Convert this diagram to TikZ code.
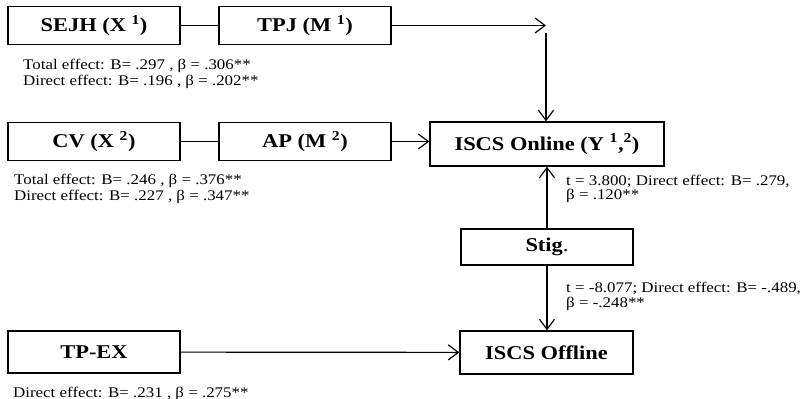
\documentclass[tikz,border=0pt]{standalone}
\usepackage{fontspec}
\setmainfont[FakeStretch=1.15]{Liberation Serif}
\usetikzlibrary{arrows.meta}

\begin{document}
\begin{tikzpicture}[x=1pt,y=-1pt,
  box/.style={draw, line width=1.4pt, inner sep=0pt,
    minimum width=172pt, minimum height=38pt,
    font=\fontsize{19.5}{22}\selectfont\bfseries},
  link/.style={line width=1.2pt},
  arr/.style={line width=1.2pt,
    -{Straight Barb[length=10pt,width=15pt,line width=1.2pt]}},
  note/.style={anchor=north west, inner sep=0pt, align=left,
    font=\fontsize{14.7}{16}\selectfont},
]
\useasboundingbox (0,0) rectangle (801,399);

% predictors and mediators
\node[box] (sejh) at (94,25.5) {SEJH (X \textsuperscript{1})};
\node[box] (tpj)  at (305,25.5) {TPJ (M \textsuperscript{1})};
\node[box] (cv)   at (94,141.5) {CV (X \textsuperscript{2})};
\node[box] (ap)   at (305,141.5) {AP (M \textsuperscript{2})};
\node[box, minimum height=42pt] (tpex) at (94,352) {TP-EX};

% outcomes and moderator
\node[box, minimum width=234pt, minimum height=44pt] (online) at (547,144)
  {ISCS Online (Y \textsuperscript{1},\textsuperscript{2})};
\node[box, minimum height=36pt] (stig) at (547,247)
  {Stig\textmd{.}};
\node[box, minimum width=173pt, minimum height=43pt] (offline) at (546.5,352.5)
  {ISCS Offline};

% paths
\coordinate (turn) at (546,25.5);
\coordinate (drop) at (546,33);
\draw[link] (sejh) -- (tpj);
\draw[arr] (tpj.east) -- (turn);
\draw[arr] (drop) -- (drop |- online.north);
\draw[link] (cv) -- (ap);
\draw[arr] (ap.east) -- (ap.east -| online.west);
\draw[arr] (stig.north) -- (stig.north |- online.south);
\draw[arr] (stig.south) -- (stig.south |- offline.north);
\draw[arr] (tpex) -- (offline);

% effect estimates
\node[note] (n1) at (23,58.5)
  {Total effect: B= .297 , β = .306**\\Direct effect: B= .196 , β = .202**};
\node[note] (n2) at (14,173.5)
  {Total effect: B= .246 , β = .376**\\Direct effect: B= .227 , β = .347**};
\node[note, font=\fontsize{14.7}{14.5}\selectfont] (n3) at (566,174.5)
  {t = 3.800; Direct effect: B= .279,\\β = .120**};
\node[note, font=\fontsize{14.7}{15}\selectfont] (n4) at (566,281.5)
  {t = -8.077; Direct effect: B= -.489,\\β = -.248**};
\node[note] (n5) at (13,386.5)
  {Direct effect: B= .231 , β = .275**};
\end{tikzpicture}
\end{document}
